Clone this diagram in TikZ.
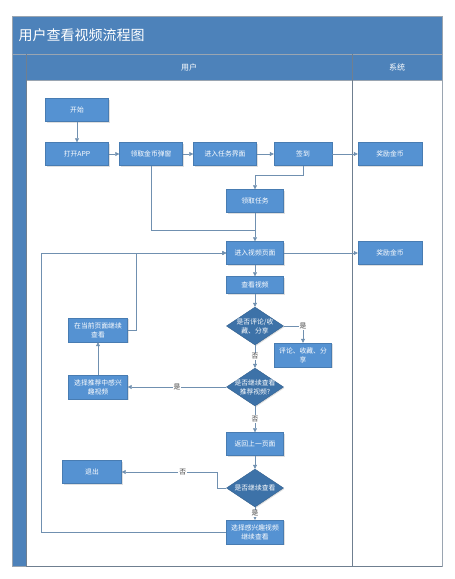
\documentclass[tikz,border=0pt]{standalone}
\usepackage{fontspec}
\setmainfont{Noto Sans CJK SC}
\usetikzlibrary{shapes.geometric,arrows.meta,calc,shadows}
\definecolor{boxblue}{HTML}{5592D2}
\definecolor{diablue}{HTML}{3D72A8}
\definecolor{barblue}{HTML}{4D82BA}
\definecolor{linec}{HTML}{7090B0}
\definecolor{framec}{HTML}{6F7F90}
\begin{document}
\begin{tikzpicture}[x=1pt,y=-1pt,
  box/.style={draw=boxblue!85!black,line width=0.4pt,fill=boxblue,text=white,
    minimum width=#1,minimum height=23pt,inner sep=1pt,align=center,
    font=\fontsize{6.8}{9}\selectfont,
    drop shadow={shadow xshift=1pt,shadow yshift=-1pt,opacity=0.25}},
  box/.default=58pt,
  dia/.style={diamond,draw=diablue!85!black,line width=0.4pt,fill=diablue,
    minimum width=57pt,minimum height=38pt,inner sep=0pt,
    drop shadow={shadow xshift=1pt,shadow yshift=-1pt,opacity=0.25}},
  diatext/.style={text=white,align=center,font=\fontsize{6.8}{9}\selectfont},
  conn/.style={draw=linec,line width=0.6pt,-{Triangle[length=4pt,width=4pt]}},
  plain/.style={draw=linec,line width=0.6pt},
  lab/.style={fill=white,inner sep=1pt,text=black!75,font=\fontsize{6.8}{8}\selectfont}
]
\useasboundingbox (0,0) rectangle (455,579);
\fill[white] (0,0) rectangle (455,579);
% frame
\fill[barblue] (12,16) rectangle (442,80);
\fill[barblue] (12,54) rectangle (26,566);
\draw[framec!70,line width=0.5pt] (12,16) rectangle (442,566);
\draw[framec!70,line width=0.5pt] (12,54) -- (442,54);
\draw[framec!70,line width=0.5pt] (26,80) -- (442,80);
\draw[framec,line width=0.7pt] (26,54) -- (26,566);
\draw[framec,line width=0.7pt] (352,54) -- (352,566);
\draw[framec,line width=0.7pt] (26,566) -- (442,566);
\node[text=white,anchor=west,font=\fontsize{14}{16}\selectfont] (title) at (15,35) {用户查看视频流程图};
\node[text=white,font=\fontsize{8}{10}\selectfont] (lane1) at (189,67) {用户};
\node[text=white,font=\fontsize{8}{10}\selectfont] (lane2) at (397,67) {系统};
% nodes
\node[box=63pt] (start) at (77,110) {开始};
\node[box=63pt] (app) at (77,154) {打开APP};
\node[box=63pt] (coin) at (151,154) {领取金币弹窗};
\node[box=63pt] (task) at (225,154) {进入任务界面};
\node[box=58pt] (sign) at (303,154) {签到};
\node[box=64pt] (reward1) at (390,154) {奖励金币};
\node[box=57pt] (gettask) at (255,201) {领取任务};
\node[box=57pt] (video) at (255,253) {进入视频页面};
\node[box=64pt] (reward2) at (390,253) {奖励金币};
\node[box=57pt,minimum height=17pt] (watch) at (255,285) {查看视频};
\node[dia] (d1) at (255,326) {};
\node[diatext] at (d1) {是否评论/收\\藏、分享};
\node[box=57pt,minimum height=24pt] (comment) at (303,355) {评论、收藏、分\\享};
\node[box=59pt,minimum height=24pt] (cur) at (98,330) {在当前页面继续\\查看};
\node[dia] (d2) at (255,387) {};
\node[diatext] at (d2) {是否继续查看\\推荐视频?};
\node[box=59pt,minimum height=24pt] (rec) at (98,387) {选择推荐中感兴\\趣视频};
\node[box=57pt] (back) at (255,444) {返回上一页面};
\node[dia] (d3) at (255,488) {};
\node[diatext] at (d3) {是否继续查看};
\node[box=59pt] (exit) at (92,472) {退出};
\node[box=57pt,minimum height=24pt] (sel) at (255,532) {选择感兴趣视频\\继续查看};
% connectors
\draw[conn] (start) -- (app);
\draw[conn] (app) -- (coin);
\draw[conn] (coin) -- (task);
\draw[conn] (task) -- (sign);
\draw[conn] (sign) -- (reward1);
\draw[conn] (sign.south) -- ($(sign.south)+(0,10)$) -| (gettask.north);
\draw[plain] (coin.south) |- ($(video.north)+(0,-11)$);
\draw[conn] (gettask) -- (video);
\draw[conn] (video) -- (reward2);
\draw[conn] (video) -- (watch);
\draw[conn] (watch) -- (d1);
\draw[conn] (d1.east) -| (comment.north) node[lab,pos=0.5] {是};
\draw[conn] (d1.south) -- (d2.north) node[lab,midway] {否};
\draw[conn] (d2.west) -- (rec.east) node[lab,midway] {是};
\draw[conn] (rec.north) -- (cur.south);
\draw[conn] (cur.east) -- ($(cur.east)+(9,0)$) |- (video.west);
\draw[conn] (sel.west) -- (41,532) |- (video.west);
\draw[conn] (d2.south) -- (back.north) node[lab,midway] {否};
\draw[conn] (back) -- (d3);
\draw[conn] (d3.west) -- (217,488) |- (exit.east) node[lab,pos=0.68] {否};
\draw[conn] (d3.south) -- (sel.north) node[lab,midway] {是};
\end{tikzpicture}
\end{document}
